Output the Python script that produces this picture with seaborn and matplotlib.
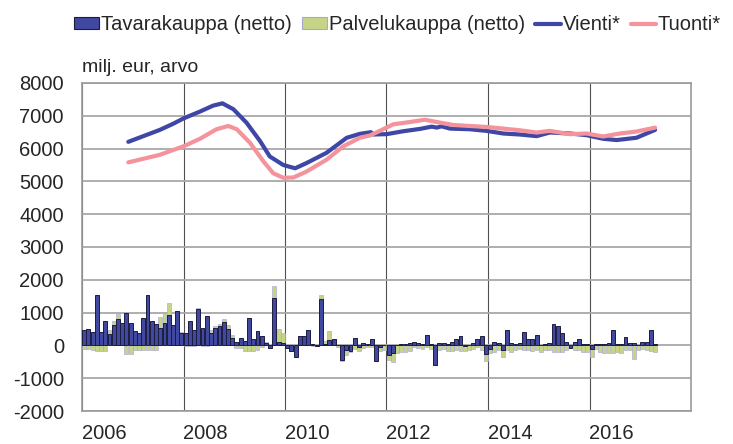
import numpy as np
import pandas as pd
import matplotlib
matplotlib.use("Agg")
import matplotlib.pyplot as plt
import seaborn as sns
from matplotlib.patches import Patch
from matplotlib.lines import Line2D

# ---- data (monthly, Jan 2006 .. Apr 2017), milj. eur ----
year_labels = ["2006", "2008", "2010", "2012", "2014", "2016"]

goods = [470, 490, 420, 1540, 420, 750, 360, 620, 820, 690,
         980, 670, 440, 390, 830, 1540, 750, 650, 520, 670,
         930, 620, 1060, 370, 370, 750, 470, 1100, 520, 900,
         380, 520, 600, 700, 490, 240, 110, 240, 130, 830,
         210, 450, 290, 80, -80, 1440, 110, 60, -90, -160,
         -340, 290, 290, 470, 30, -30, 1410, 30, 150, 180,
         20, -450, -150, -170, 240, -40, 60, 40, 200, -480,
         -40, 20, -300, -240, 20, 40, 50, 80, 90, 60,
         50, 320, 50, -600, 80, 80, 40, 100, 180, 290,
         -20, 20, 80, 200, 300, -250, -120, 90, 80, -150,
         480, 60, 40, 60, 420, 200, 200, 320, 20, 50,
         60, 650, 600, 380, 100, -70, 100, 200, 50, 50,
         -110, 30, 30, 50, 60, 480, 40, 50, 270, 80,
         80, 20, 100, 100, 480, 30]

services = [-100, -100, -150, -160, -160, -160, 100, 120, 150, 0,
            -270, -270, -150, -150, -150, -150, -150, -130, 350, 320,
            370, 0, 0, 50, -20, -20, -20, 50, -20, -20,
            80, 70, 50, 100, 130, 70, -70, -90, -170, -170,
            -170, -150, -50, 20, 0, 370, 380, 330, 0, 0,
            0, 0, 0, 0, -20, 0, 130, 100, 300, 0,
            -50, -20, -150, -40, -100, -120, -80, -60, -50, 0,
            -120, -150, -130, -260, -220, -200, -200, -180, -60, -80,
            -100, -60, -100, 0, -130, -100, -180, -180, -150, -180,
            -150, -150, -100, -60, -150, -230, -100, -200, -150, -200,
            -150, -200, -130, -120, -150, -150, -170, -150, -200, -150,
            -150, -200, -200, -200, -150, 0, -150, -150, -200, -200,
            -250, -100, -200, -230, -230, -230, -200, -230, -150, -150,
            -400, -150, -100, -150, -180, -200]

# 12-month moving averages (months since Jan 2006)
vienti_month = [10.95, 14.5, 18.4, 21.6, 24.0, 27.9, 31.0, 33.2, 35.8, 38.9,
                42.1, 44.4, 47.6, 50.4, 53.1, 57.8, 62.6, 65.7, 68.3, 68.9,
                72.0, 76.0, 79.9, 82.7, 83.9, 85.0, 87.0, 91.7, 95.7, 99.6,
                103.5, 107.5, 110.6, 115.4, 119.3, 123.2, 126.4, 131.1, 135.5]
vienti = [6206, 6380, 6570, 6760, 6920, 7130, 7310, 7380, 7200, 6790,
          6230, 5760, 5500, 5400, 5560, 5870, 6330, 6450, 6500, 6430,
          6440, 6530, 6600, 6670, 6640, 6680, 6610, 6590, 6540, 6460,
          6430, 6380, 6490, 6460, 6410, 6300, 6260, 6330, 6570]

tuonti_month = [10.95, 18.4, 24.0, 27.9, 31.8, 34.6, 36.6, 39.7, 42.9, 45.2,
                47.6, 50.0, 53.1, 57.8, 61.8, 65.7, 68.1, 70.4, 73.6, 77.5,
                81.1, 83.9, 87.8, 91.7, 95.7, 99.6, 103.5, 107.5, 110.6, 115.4,
                119.3, 123.2, 127.2, 131.1, 135.5]
tuonti = [5580, 5810, 6070, 6300, 6590, 6690, 6590, 6180, 5610, 5250,
          5110, 5120, 5300, 5660, 6070, 6330, 6400, 6540, 6740, 6810,
          6880, 6810, 6720, 6690, 6660, 6610, 6560, 6490, 6540, 6440,
          6460, 6370, 6460, 6520, 6640]

# ---- styling ----
GOODS_C = "#4048A0"
GOODS_EDGE = "#1C1C40"
SERV_C = "#C6D487"
SERV_EDGE = "#A8A8D8"
VIENTI_C = "#3E47A6"
TUONTI_C = "#F4939C"

sns.set_theme(style="white")
plt.rcParams["font.family"] = ["Liberation Sans", "DejaVu Sans"]
FS = 14.5

fig = plt.figure(figsize=(7.33, 4.44), dpi=100)
ax = fig.add_axes([82 / 733, 1 - 411 / 444, (691 - 82) / 733, (411 - 83) / 444])

g = np.array(goods, dtype=float)
s = np.array(services, dtype=float)
base = np.where(s >= 0, np.maximum(g, 0), np.minimum(g, 0))
df = pd.DataFrame({"month": np.arange(len(g)) + 0.5, "goods": g, "serv_top": base + s})

sns.barplot(data=df, x="month", y="serv_top", native_scale=True, orient="x",
            width=0.92, color=SERV_C, edgecolor=SERV_EDGE, linewidth=0.45,
            saturation=1, errorbar=None, ax=ax, zorder=2)
sns.barplot(data=df, x="month", y="goods", native_scale=True, orient="x",
            width=0.92, color=GOODS_C, edgecolor=GOODS_EDGE, linewidth=0.7,
            saturation=1, errorbar=None, ax=ax, zorder=3)

sns.lineplot(x=vienti_month, y=vienti, color=VIENTI_C, linewidth=3.0, ax=ax, zorder=4)
sns.lineplot(x=tuonti_month, y=tuonti, color=TUONTI_C, linewidth=3.0, ax=ax, zorder=5)

ax.set_xlim(0, 144)
ax.set_ylim(-2000, 8000)
ax.set_yticks(range(-2000, 8001, 1000))
ax.set_yticklabels([str(v) for v in range(-2000, 8001, 1000)], fontsize=FS)
ax.set_xticks(range(0, 121, 24))
ax.set_xticklabels(year_labels, fontsize=FS, ha="left")
ax.tick_params(axis="both", length=0)
ax.tick_params(axis="y", pad=13)
ax.tick_params(axis="x", pad=9)
ax.set_xlabel("")
ax.set_ylabel("")

ax.set_axisbelow(True)
ax.yaxis.grid(True, color="#a8a8a8", linewidth=1.3)
ax.xaxis.grid(True, color="#505050", linewidth=0.8)
for side in ["left", "right", "top", "bottom"]:
    ax.spines[side].set_visible(True)
    ax.spines[side].set_color("#9a9a9a")
    ax.spines[side].set_linewidth(1.2)

fig.text(82 / 733, 1 - 68 / 444, "milj. eur, arvo", fontsize=FS - 0.5,
         ha="left", va="center")

handles = [
    Patch(facecolor=GOODS_C, edgecolor=GOODS_EDGE, linewidth=0.8),
    Patch(facecolor=SERV_C, edgecolor=SERV_EDGE, linewidth=0.8),
    Line2D([0], [0], color=VIENTI_C, linewidth=3),
    Line2D([0], [0], color=TUONTI_C, linewidth=3),
]
labels = ["Tavarakauppa (netto)", "Palvelukauppa (netto)", "Vienti*", "Tuonti*"]
fig.legend(handles, labels, loc="center left", bbox_to_anchor=(74 / 733, 1 - 25 / 444),
           ncol=4, frameon=False, fontsize=FS, handlelength=1.25, handleheight=0.55,
           handletextpad=0.1, columnspacing=0.5, borderaxespad=0, borderpad=0)

fig.savefig("out.png", dpi=100)
